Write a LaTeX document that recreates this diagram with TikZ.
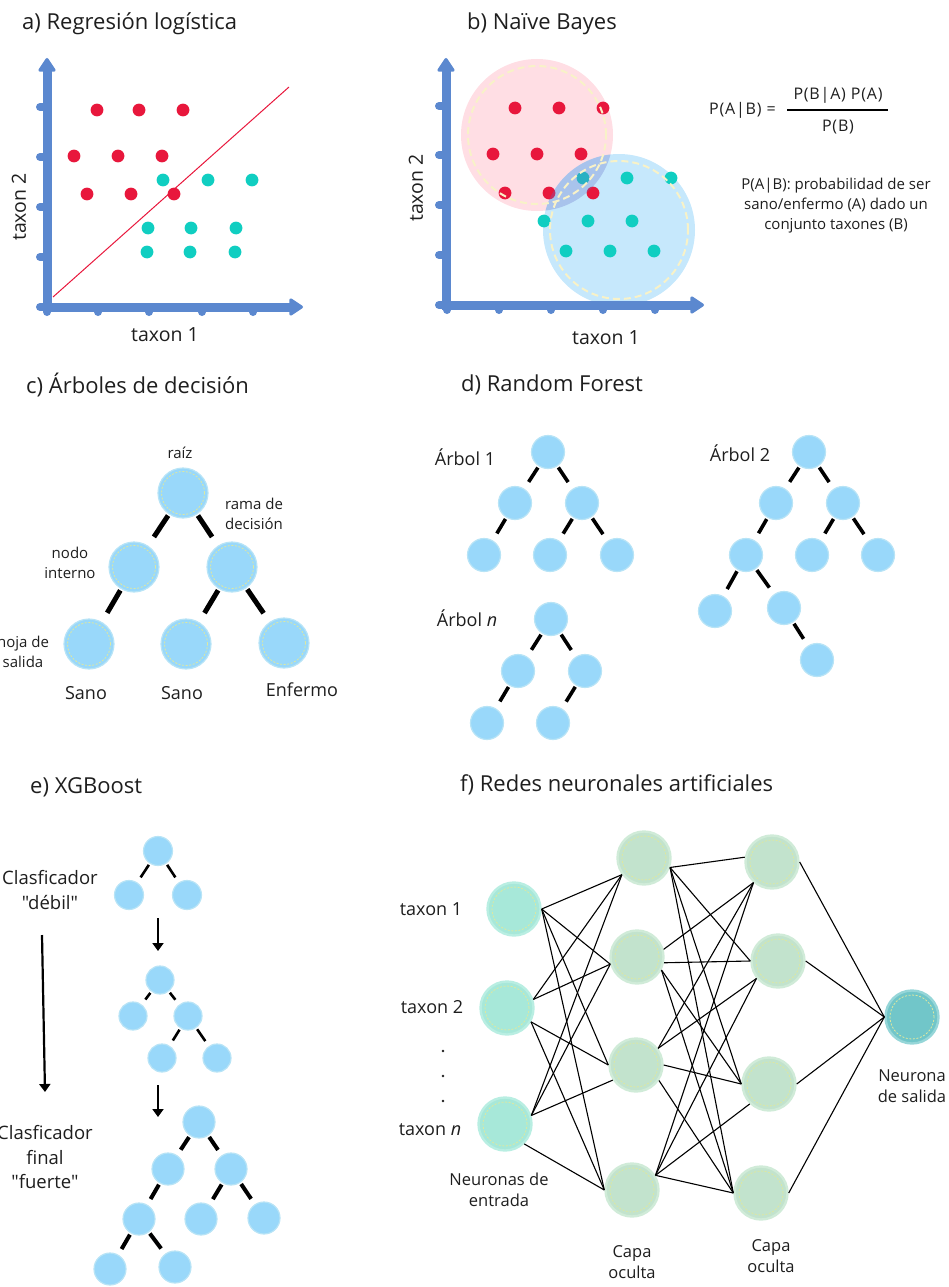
\documentclass[tikz,border=0pt]{standalone}
\usepackage{fontspec}
\setmainfont{Open Sans}[Ligatures=TeXOff]
\usetikzlibrary{arrows.meta}

\definecolor{axisblue}{RGB}{91,136,207}
\definecolor{dotred}{RGB}{232,23,60}
\definecolor{dotcyan}{RGB}{16,206,193}
\definecolor{pinkzone}{RGB}{255,222,228}
\definecolor{bluezone}{RGB}{198,232,252}
\definecolor{lenszone}{RGB}{100,110,200}
\definecolor{dashyel}{RGB}{248,242,200}
\definecolor{leafblue}{RGB}{153,216,250}
\definecolor{leafrim}{RGB}{184,228,246}
\definecolor{ringyel}{RGB}{222,232,160}
\definecolor{hidgreen}{RGB}{194,227,205}
\definecolor{hidrim}{RGB}{208,235,216}
\definecolor{ingreen}{RGB}{167,232,217}
\definecolor{inrim}{RGB}{185,238,226}
\definecolor{outteal}{RGB}{113,198,201}
\definecolor{outrim}{RGB}{150,214,216}
\definecolor{ink}{RGB}{30,30,30}

\newcommand{\fsz}[2]{\fontsize{#1}{#2}\selectfont}

\begin{document}
\begin{tikzpicture}[x=1pt, y=-1pt, text=ink,
    title/.style={anchor=west, inner sep=0, font=\fsz{22}{26}},
    axislbl/.style={inner sep=0, font=\fsz{19.5}{23}},
    note/.style={inner sep=0, align=center, font=\fsz{15}{20}},
    small/.style={inner sep=0, align=center, font=\fsz{15}{19.5}},
    big/.style={inner sep=0, align=center, font=\fsz{18}{24.5}},
    mid/.style={inner sep=0, align=center, font=\fsz{16.5}{21.5}},
    axisline/.style={axisblue, line width=9, -{Triangle[round, width=19pt, length=15pt, line width=3pt]}},
    tickmark/.style={axisblue, line width=8, line cap=round},
    bubble/.style={circle, inner sep=0, fill=leafblue, draw=leafrim, line width=1.2, minimum size=#1},
    ring/.style={path picture={\draw[ringyel, line width=0.8, dash pattern=on 2pt off 1.6pt] (path picture bounding box.center) circle (#1);}},
    twig/.style={line width=#1, shorten <=1.5, shorten >=7},
    flow/.style={line width=2.2, -{Triangle[width=11pt, length=8pt]}},
    neuron/.style={circle, inner sep=0, minimum size=53, line width=2.4},
    innode/.style={neuron, fill=ingreen, draw=inrim, ring=22pt},
    hidnode/.style={neuron, fill=hidgreen, draw=hidrim, ring=22pt},
    outnode/.style={neuron, fill=outteal, draw=outrim, ring=22pt},
    link/.style={line width=1.1}]
\useasboundingbox (0,0) rectangle (949,1287);

\node[title] (ta) at (22,24) {a) Regresión logística};
\foreach \x/\y in {97/110,139/110,183/110,74/156,118/156,162/156,87/194,131/194,174/194}
    \fill[dotred] (\x,\y) circle (6.4pt);
\foreach \x/\y in {163/180,208/180,252/180,148/228,191/228,236/228,147/252,190/252,235/252}
    \fill[dotcyan] (\x,\y) circle (6.4pt);
\draw[dotred, line width=1] (53,297) -- (289,87);
\foreach \t in {107,157,207,257,307}
    \draw[tickmark] (47,\t) -- (40,\t);
\foreach \t in {47,98,149,202,253}
    \draw[tickmark] (\t,307) -- (\t,312);
\draw[axisline] (47,311) -- (47,58);
\draw[axisline] (43,307) -- (303,307);
\node[axislbl, rotate=90] (ya) at (19,207) {taxon 2};
\node[axislbl] (xa) at (165,335) {taxon 1};

\node[title] (tb) at (467,24) {b) Naïve Bayes};
\fill[pinkzone] (537,135) circle (76pt);
\fill[bluezone] (619,230) circle (76pt);
\foreach \x/\y in {515/108,559/108,603/108,493/154,537/154,581/154,505/193,549/193,593/193}
    \fill[dotred] (\x,\y) circle (6.4pt);
\foreach \x/\y in {583/178,627/178,671/178,544/221,588/221,632/221,566/251,610/251,654/251}
    \fill[dotcyan] (\x,\y) circle (6.4pt);
\begin{scope}
    \clip (537,135) circle (76pt);
    \fill[lenszone, opacity=0.3] (619,230) circle (76pt);
\end{scope}
\draw[dashyel, line width=2, dash pattern=on 7pt off 4pt] (537,135) circle (69pt);
\draw[dashyel, line width=2, dash pattern=on 7pt off 4pt] (619,230) circle (69pt);
\foreach \t in {106,155,205,255,305}
    \draw[tickmark] (446,\t) -- (439,\t);
\foreach \t in {447,499,551,603,655}
    \draw[tickmark] (\t,305) -- (\t,310);
\draw[axisline] (446,309) -- (446,58);
\draw[axisline] (442,305) -- (704,305);
\node[axislbl, rotate=90] (yb) at (416,188) {taxon 2};
\node[axislbl] (xb) at (606,338) {taxon 1};
\node[anchor=west, inner sep=0, font=\fsz{16}{19}\addfontfeatures{LetterSpace=5}] (pab) at (709,110) {P(A|B) =};
\node[inner sep=0, font=\fsz{16}{19}\addfontfeatures{LetterSpace=5}] (num) at (838,95) {P(B|A) P(A)};
\node[inner sep=0, font=\fsz{16}{19}\addfontfeatures{LetterSpace=5}] (den) at (838,127) {P(B)};
\draw[line width=1.8] (787,110) -- (888,110);
\node[note] (desc) at (836,206) {P(A|B): probabilidad de ser\\sano/enfermo (A) dado un\\conjunto taxones (B)};

\node[title] (tc) at (26,385) {c) Árboles de decisión};
\node[bubble=50, ring=21.5pt] (c0) at (183,493) {};
\node[bubble=50, ring=21.5pt] (c1) at (134,567) {};
\node[bubble=50, ring=21.5pt] (c2) at (232,567) {};
\node[bubble=50, ring=21.5pt] (c11) at (89,644) {};
\node[bubble=50, ring=21.5pt] (c21) at (186,644) {};
\node[bubble=50, ring=21.5pt] (c22) at (284,643) {};
\foreach \a/\b in {c0/c1, c0/c2, c1/c11, c2/c21, c2/c22}
    \draw[twig=5, shorten >=10.5] (\a) -- (\b);
\node[small] (root) at (180,453) {raíz};
\node[small] (branch) at (254,514) {rama de\\decisión};
\node[small] (inner) at (70,563) {nodo\\interno};
\node[small] (leaf) at (23,652) {hoja de\\salida};
\node[big] (s1) at (86,693) {Sano};
\node[big] (s2) at (182,693) {Sano};
\node[big] (s3) at (302,690) {Enfermo};

\node[title] (td) at (461,385) {d) Random Forest};
\node[big] (a1) at (465,457) {Árbol 1};
\node[bubble=33] (d1) at (548,452) {};
\node[bubble=33] (d1a) at (515,503) {};
\node[bubble=33] (d1b) at (582,503) {};
\node[bubble=33] (d1aa) at (484,555) {};
\node[bubble=33] (d1ba) at (550,555) {};
\node[bubble=33] (d1bb) at (617,555) {};
\node[big] (a2) at (740,453) {Árbol 2};
\node[bubble=33] (d2) at (809,452) {};
\node[bubble=33] (d2a) at (776,503) {};
\node[bubble=33] (d2b) at (843,503) {};
\node[bubble=33] (d2aa) at (746,555) {};
\node[bubble=33] (d2ba) at (812,555) {};
\node[bubble=33] (d2bb) at (878,555) {};
\node[bubble=33] (d2aaa) at (715,611) {};
\node[bubble=33] (d2aab) at (784,608) {};
\node[bubble=33] (d2aabb) at (817,660) {};
\node[big] (an) at (467,618) {Árbol \textit{n}};
\node[bubble=33] (dn) at (551,619) {};
\node[bubble=33] (dna) at (518,671) {};
\node[bubble=33] (dnb) at (585,671) {};
\node[bubble=33] (dnaa) at (487,723) {};
\node[bubble=33] (dnba) at (553,723) {};
\foreach \a/\b in {d1/d1a, d1/d1b, d1a/d1aa, d1b/d1ba, d1b/d1bb,
    d2/d2a, d2/d2b, d2a/d2aa, d2b/d2ba, d2b/d2bb, d2aa/d2aaa, d2aa/d2aab, d2aab/d2aabb,
    dn/dna, dn/dnb, dna/dnaa, dnb/dnba}
    \draw[twig=3.6, shorten >=8] (\a) -- (\b);

\node[title] (te) at (30,787) {e) XGBoost};
\node[inner sep=0, align=center, font=\fsz{18.5}{25}] (weak) at (50,890) {Clasficador\\"débil"};
\node[inner sep=0, align=center, font=\fsz{18.5}{24.5}] (strong) at (45,1157) {Clasficador\\final\\"fuerte"};
\coordinate (wtop) at (42,935);
\coordinate (wbot) at (45,1092);
\draw[flow] (wtop) -- (wbot);
\node[bubble=29] (ea) at (158,851) {};
\node[bubble=29] (eaa) at (129,895) {};
\node[bubble=29] (eab) at (187,895) {};
\node[bubble=28] (eb) at (160,980) {};
\node[bubble=28] (eba) at (133,1016) {};
\node[bubble=28] (ebb) at (188,1016) {};
\node[bubble=28] (ebba) at (162,1058) {};
\node[bubble=28] (ebbb) at (217,1058) {};
\node[bubble=32] (ec) at (199,1122) {};
\node[bubble=32] (eca) at (168,1169) {};
\node[bubble=32] (ecb) at (231,1169) {};
\node[bubble=32] (ecaa) at (139,1219) {};
\node[bubble=32] (ecba) at (201,1219) {};
\node[bubble=32] (ecbb) at (264,1218) {};
\node[bubble=32] (ecaaa) at (110,1269) {};
\node[bubble=32] (ecaab) at (175,1267) {};
\foreach \a/\b in {ea/eaa, ea/eab, eb/eba, eb/ebb, ebb/ebba, ebb/ebbb}
    \draw[twig=2.6, shorten >=6] (\a) -- (\b);
\foreach \a/\b in {ec/eca, ec/ecb, eca/ecaa, ecb/ecba, ecb/ecbb, ecaa/ecaaa, ecaa/ecaab}
    \draw[twig=4, shorten >=6.5] (\a) -- (\b);
\coordinate (s1top) at (158,918);
\coordinate (s1bot) at (158,951);
\coordinate (s2top) at (158,1085);
\coordinate (s2bot) at (158,1117);
\draw[flow] (s1top) -- (s1bot);
\draw[flow] (s2top) -- (s2bot);

\node[title] (tf) at (460,785) {f) Redes neuronales artificiales};
\node[innode] (in1) at (514,909) {};
\node[innode] (in2) at (507,1008) {};
\node[innode] (in3) at (505,1124) {};
\node[hidnode] (h1a) at (644,858) {};
\node[hidnode] (h1b) at (637,957) {};
\node[hidnode] (h1c) at (636,1065) {};
\node[hidnode] (h1d) at (632,1190) {};
\node[hidnode] (h2a) at (772,862) {};
\node[hidnode] (h2b) at (778,961) {};
\node[hidnode] (h2c) at (769,1084) {};
\node[hidnode] (h2d) at (761,1193) {};
\node[outnode] (out) at (912,1017) {};
\foreach \a/\b in {in1.0/h1a.217, in1.0/h1b.195, in1.0/h1c.180, in1.0/h1d.180,
    in2.18/h1a.217, in2.18/h1b.195, in2.-30/h1c.180, in2.-30/h1d.180,
    in3.18/h1a.217, in3.18/h1b.195, in3.18/h1c.213, in3.-46/h1d.180,
    h1a.-20/h2a.170, h1a.-20/h2b.180, h1a.-20/h2c.180, h1a.-20/h2d.180,
    h1b.16/h2a.228, h1b.-12/h2b.180, h1b.-28/h2c.180, h1b.-28/h2d.180,
    h1c.37/h2a.228, h1c.37/h2b.219, h1c.0/h2c.180, h1c.-34/h2d.180,
    h1d.32/h2a.228, h1d.32/h2b.219, h1d.32/h2c.226, h1d.32/h2d.180,
    h2a.0/out.180, h2b.0/out.180, h2c.0/out.180, h2d.0/out.180}
    \draw[link] (\a) -- (\b);
\node[axislbl, font=\fsz{18}{22}] (x1) at (431,909) {taxon 1};
\node[axislbl, font=\fsz{18}{22}] (x2) at (432,1007) {taxon 2};
\node[axislbl, font=\fsz{18}{22}] (xn) at (430,1130) {taxon \textit{n}};
\foreach \y in {1051,1076,1101}
    \fill[ink] (443,\y) circle (1.4pt);
\node[mid] (inlbl) at (499,1190) {Neuronas de\\entrada};
\node[mid] (cap1) at (632,1262) {Capa\\oculta};
\node[mid] (cap2) at (771,1256) {Capa\\oculta};
\node[mid] (outlbl) at (912,1086) {Neurona\\de salida};
\end{tikzpicture}
\end{document}
